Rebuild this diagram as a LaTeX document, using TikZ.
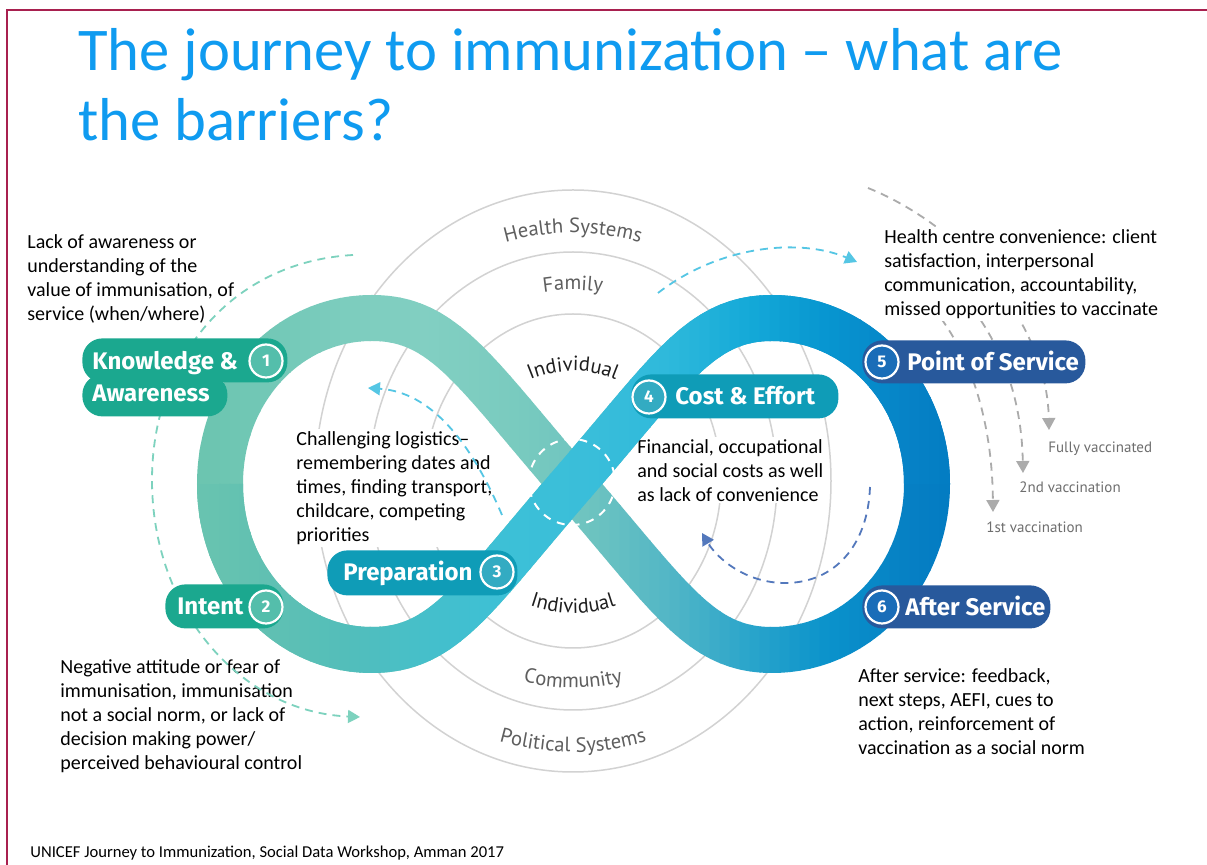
\documentclass[tikz,border=0pt]{standalone}
\usepackage{fontspec}
\setmainfont{Carlito}
\newfontfamily\pillfont{Fira Sans}
\newfontfamily\ringfont{PT Sans}
\usetikzlibrary{arrows.meta, decorations.text}

\definecolor{titleblue}{HTML}{0F9BF0}
\definecolor{framered}{HTML}{A8204F}
\definecolor{ringgray}{HTML}{D2D2D2}
\definecolor{labelgray}{HTML}{5E5E5E}
\definecolor{labeldark}{HTML}{1E1E1E}
\definecolor{vaccgray}{HTML}{6E6E6E}
\definecolor{kagreen}{HTML}{1BA88F}
\definecolor{prepteal}{HTML}{0F9CB7}
\definecolor{servblue}{HTML}{28599C}
\definecolor{numblue}{HTML}{1A6DB8}
\definecolor{mintdash}{HTML}{7DD2BE}
\definecolor{cyandash}{HTML}{55C6E4}
\definecolor{bluedash}{HTML}{5378BC}
\definecolor{graydash}{HTML}{ABABAB}

% ribbon colours, one every 80 units from x=190
\definecolor{under0}{HTML}{6AC4AF}
\definecolor{under1}{HTML}{72C8B7}
\definecolor{under2}{HTML}{7DCDBE}
\definecolor{under3}{HTML}{82CFC2}
\definecolor{under4}{HTML}{7ACBBF}
\definecolor{under5}{HTML}{6EC4C0}
\definecolor{under6}{HTML}{52B6C6}
\definecolor{under7}{HTML}{2AA5CB}
\definecolor{under8}{HTML}{0A92CB}
\definecolor{under9}{HTML}{0680C4}
\definecolor{under10}{HTML}{0077C0}
\definecolor{over0}{HTML}{6AC4AF}
\definecolor{over1}{HTML}{60C0B2}
\definecolor{over2}{HTML}{52BEBB}
\definecolor{over3}{HTML}{45BFCB}
\definecolor{over4}{HTML}{3CC0D7}
\definecolor{over5}{HTML}{3ABEDA}
\definecolor{over6}{HTML}{2EB9DB}
\definecolor{over7}{HTML}{14A9D8}
\definecolor{over8}{HTML}{0795D0}
\definecolor{over9}{HTML}{0682C6}
\definecolor{over10}{HTML}{0077C0}

% centre line of the ribbon: the whole loop, and the strand lying on top
\newcommand\fullloop{(572,484) .. controls (670,371) and (700,318) .. (772,318)
    .. controls (858,318) and (927,392) .. (927,484)
    .. controls (927,576) and (858,650) .. (772,650)
    .. controls (700,650) and (670,597) .. (572,484)
    .. controls (474,371) and (444,318) .. (372,318)
    .. controls (286,318) and (220,392) .. (220,484)
    .. controls (220,576) and (286,650) .. (372,650)
    .. controls (444,650) and (474,597) .. (572,484)}
\newcommand\overstrand{(220,484) .. controls (220,576) and (286,650) .. (372,650)
    .. controls (444,650) and (474,597) .. (572,484)
    .. controls (670,371) and (700,318) .. (772,318)
    .. controls (858,318) and (927,392) .. (927,484)}

\begin{document}
\begin{tikzpicture}[x=0.5pt, y=-0.5pt,
    band/.style={line width=23pt},
    body/.style={font=\fontsize{10}{12}\selectfont, align=left, fill=white,
        inner sep=1pt, anchor=north west},
    pill/.style={fill=#1, rounded corners=10pt, inner sep=0pt, anchor=north west},
    pilltext/.style={text=white, font=\pillfont\bfseries\fontsize{12}{12}\selectfont,
        inner sep=0pt, anchor=base west},
    num/.style={circle, draw=white, line width=1.1pt, fill=#1, text=white,
        minimum size=16.5pt, inner sep=0pt,
        font=\pillfont\bfseries\fontsize{8.5}{8.5}\selectfont},
    dashline/.style={draw=#1, line width=0.9pt, dash pattern=on 4pt off 3pt,
        -{Triangle[length=6pt, width=6.5pt, fill=#1]}},
    ringlabel/.style 2 args={decorate, decoration={text along path,
        text align=center, text color=#1,
        text={|\ringfont\fontsize{10.3}{10.3}\selectfont|#2}}},
    vacc/.style={font=\ringfont\fontsize{7.5}{7.5}\selectfont, text=vaccgray,
        inner sep=0pt, anchor=base west}]

    \useasboundingbox (0,0) rectangle (1207,865);
    \fill[white] (0,0) rectangle (1207,865);
    \draw[framered, line width=1pt] (7,865) -- (7,10) -- (1207,10);

    \node[anchor=base west, inner sep=0pt, text=titleblue,
        font=\fontsize{30.3}{30.3}\selectfont] (title) at (78,71)
        {The journey to immunization -- what are};
    \node[anchor=base west, inner sep=0pt, text=titleblue,
        font=\fontsize{30.3}{30.3}\selectfont] (title2) at (78,141) {the barriers?};

    % rings
    \foreach \rx/\ry in {258/291, 204/229, 148/167}
        \draw[ringgray, line width=0.75pt] (573,481) ellipse [x radius=\rx, y radius=\ry];

    % vaccination arcs, partly under the text on the right
    \coordinate (fullyFrom) at (868,188);
    \coordinate (secondFrom) at (900,245);
    \coordinate (firstFrom) at (890,272);
    \coordinate (fullyTo) at (1049,430);
    \coordinate (secondTo) at (1023,473);
    \coordinate (firstTo) at (993,512);
    \draw[dashline=graydash] (fullyFrom) .. controls (960,225) and (1047,320) .. (fullyTo);
    \draw[dashline=graydash] (secondFrom) .. controls (970,285) and (1021,360) .. (secondTo);
    \draw[dashline=graydash] (firstFrom) .. controls (950,305) and (992,390) .. (firstTo);
    \node[vacc] (fully) at (1048,453) {Fully vaccinated};
    \node[vacc] (second) at (1019,493) {2nd vaccination};
    \node[vacc] (first) at (986,533) {1st vaccination};

    % texts
    \node[body] (lackTxt) at (25,232) {Lack of awareness or\\understanding of the\\value of immunisation, of\\service (when/where)};
    \node[body] (centreTxt) at (882,227) {Health centre convenience: client\\satisfaction, interpersonal\\communication, accountability,\\missed opportunities to vaccinate};
    \node[body] (logiTxt) at (294,429) {Challenging logistics--\\remembering dates and\\times, finding transport,\\childcare, competing\\priorities};
    \node[body] (costTxt) at (635,437) {Financial, occupational\\and social costs as well\\as lack of convenience};
    \node[body] (intentTxt) at (58,657) {Negative attitude or fear of\\immunisation, immunisation\\not a social norm, or lack of\\decision making power/\\perceived behavioural control};
    \node[body] (afterTxt) at (856,666) {After service: feedback,\\next steps, AEFI, cues to\\action, reinforcement of\\vaccination as a social norm};

    % ribbon, in thin strips so the colour runs along x
    \foreach \k in {0,...,9}
        \foreach \j in {0,...,7}{
            \pgfmathtruncatemacro\kn{\k+1}
            \pgfmathsetmacro\xs{190+80*\k+10*\j}
            \pgfmathsetmacro\pc{12.5*\j+6.25}
            \begin{scope}
                \clip (\xs-0.5,280) rectangle (\xs+10.5,690);
                \draw[band, draw=under\kn!\pc!under\k] \fullloop;
            \end{scope}
        }
    \foreach \k in {0,...,9}
        \foreach \j in {0,...,7}{
            \pgfmathtruncatemacro\kn{\k+1}
            \pgfmathsetmacro\xs{190+80*\k+10*\j}
            \pgfmathsetmacro\pc{12.5*\j+6.25}
            \begin{scope}
                \clip (\xs-0.5,280) rectangle (\xs+10.5,690);
                \draw[band, draw=over\kn!\pc!over\k] \overstrand;
            \end{scope}
        }
    \draw[white, line width=1pt, dash pattern=on 4pt off 3.5pt] (572,482) circle [radius=43];

    % ring names
    \path[ringlabel={labelgray}{Health Systems}] (573,481) ++(215:248) arc [start angle=215, end angle=325, radius=248];
    \path[ringlabel={labelgray}{Family}] (573,481) ++(215:191) arc [start angle=215, end angle=325, radius=191];
    \path[ringlabel={labeldark}{Individual}] (573,481) ++(200:110) arc [start angle=200, end angle=340, radius=110];
    \path[ringlabel={labeldark}{Individual}] (573,481) ++(160:132) arc [start angle=160, end angle=20, radius=132];
    \path[ringlabel={labelgray}{Community}] (573,481) ++(145:207) arc [start angle=145, end angle=35, radius=207];
    \path[ringlabel={labelgray}{Political Systems}] (573,481) ++(145:271) arc [start angle=145, end angle=35, radius=271];

    % arrows
    \coordinate (knowFrom) at (353,255);
    \coordinate (intentTo) at (360,717);
    \coordinate (prepFrom) at (502,515);
    \coordinate (prepTo) at (368,388);
    \coordinate (costFrom) at (658,293);
    \coordinate (costTo) at (857,262);
    \coordinate (afterFrom) at (870,487);
    \coordinate (afterTo) at (702,533);
    \draw[dashline=mintdash] (knowFrom) .. controls (230,262) and (152,360) .. (152,480)
        .. controls (152,610) and (240,712) .. (intentTo);
    \draw[dashline=cyandash] (prepFrom) .. controls (470,440) and (430,392) .. (prepTo);
    \draw[dashline=cyandash] (costFrom) .. controls (720,245) and (800,238) .. (costTo);
    \draw[dashline=bluedash] (afterFrom) .. controls (868,545) and (835,583) .. (785,583)
        .. controls (745,583) and (717,558) .. (afterTo);

    % stages
    \node[pill=kagreen, minimum width=102.5pt, minimum height=22pt] (knowTop) at (82,338) {};
    \node[pill=kagreen, minimum width=72.5pt, minimum height=21pt] (knowBot) at (82,374) {};
    \node[pilltext] (knowTxt) at (92,370) {Knowledge \&};
    \node[pilltext] (awareTxt) at (92,402) {Awareness};
    \node[num=kagreen!75!white] (n1) at (266,361) {1};

    \node[pill=kagreen, minimum width=59pt, minimum height=22pt] (intent) at (165,584) {};
    \node[pilltext] (intentLbl) at (177,615) {Intent};
    \node[num=kagreen!75!white] (n2) at (266,607) {2};

    \node[pill=prepteal, minimum width=95pt, minimum height=22.5pt] (prep) at (327,550) {};
    \node[pilltext] (prepLbl) at (343,581) {Preparation};
    \node[num=prepteal!85!white] (n3) at (497,572) {3};

    \node[pill=prepteal, minimum width=103.5pt, minimum height=22pt] (cost) at (631,374) {};
    \node[num=prepteal!85!white] (n4) at (649,397) {4};
    \node[pilltext] (costLbl) at (675,405) {Cost \& Effort};

    \node[pill=servblue, minimum width=111.5pt, minimum height=21.5pt] (pos) at (862,340) {};
    \node[num=numblue] (n5) at (882,362) {5};
    \node[pilltext] (posLbl) at (907,371) {Point of Service};

    \node[pill=servblue, minimum width=94pt, minimum height=21.5pt] (after) at (862,585) {};
    \node[num=numblue] (n6) at (882,607) {6};
    \node[pilltext] (afterLbl) at (905,616) {After Service};

    \node[anchor=base west, inner sep=0pt, font=\fontsize{8.3}{8.3}\selectfont] (source) at (30,858)
        {UNICEF Journey to Immunization, Social Data Workshop, Amman 2017};

\end{tikzpicture}
\end{document}
